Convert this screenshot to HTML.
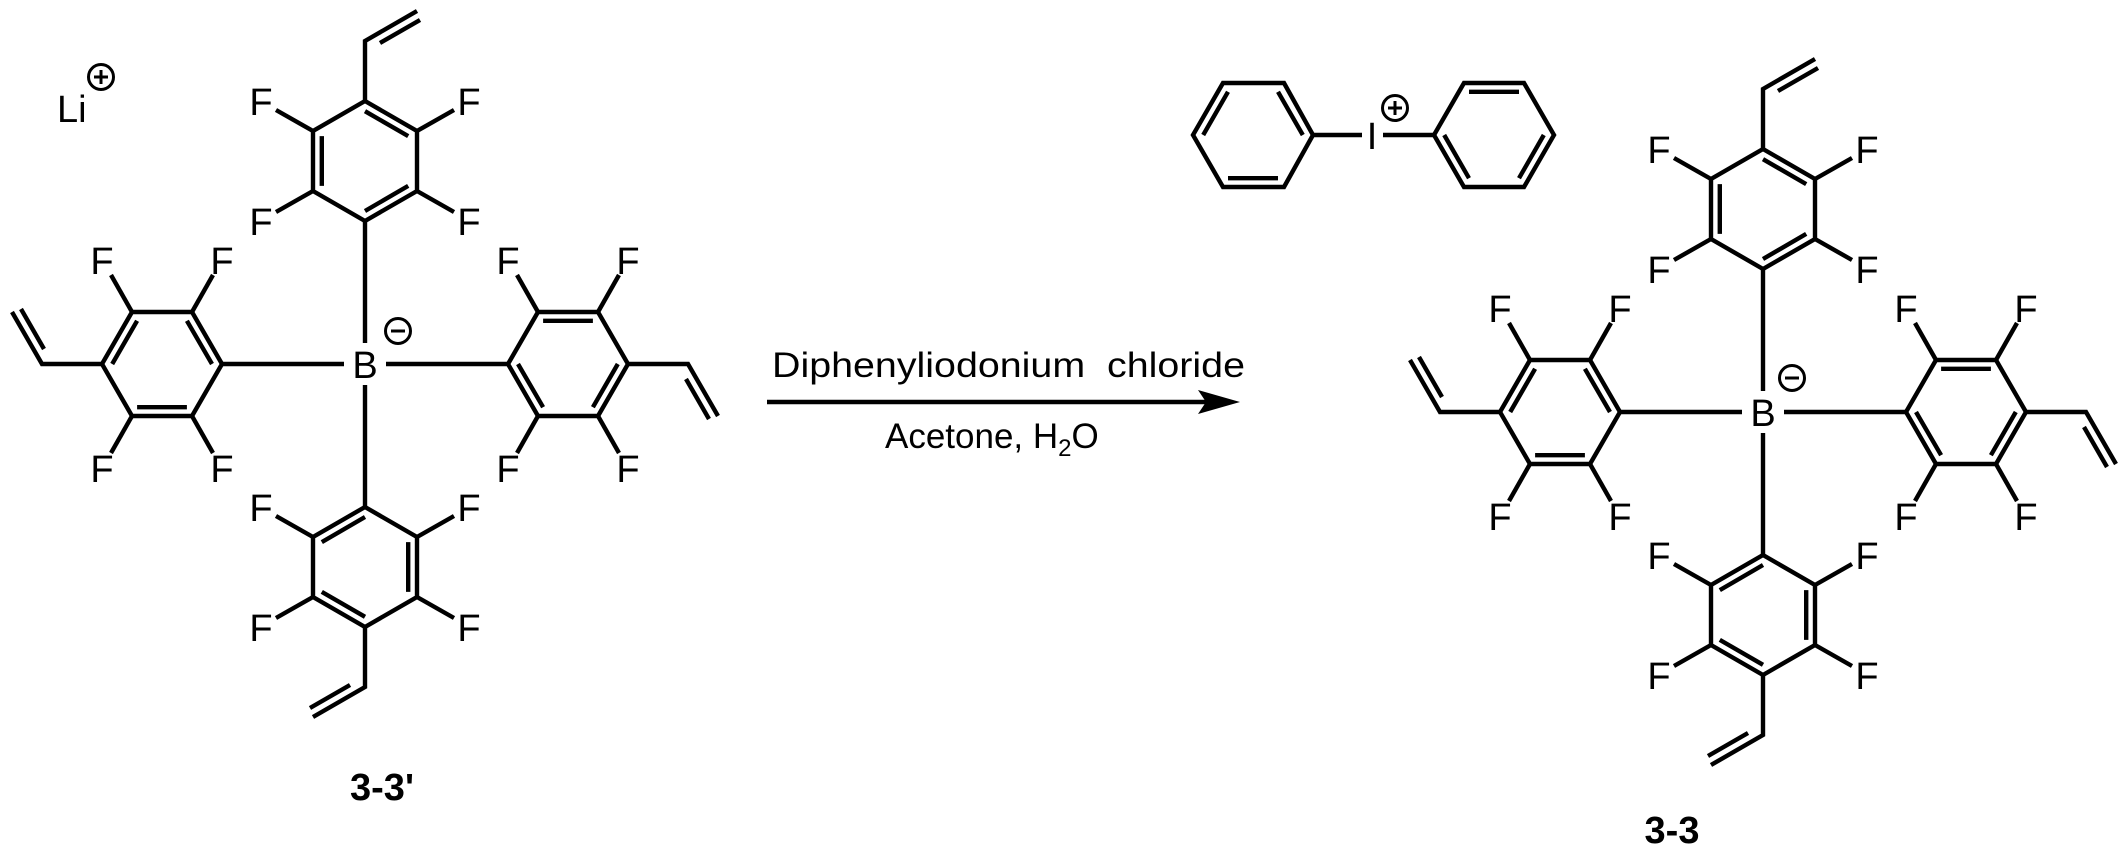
<!DOCTYPE html>
<html><head><meta charset="utf-8"><style>
html,body{margin:0;padding:0;background:#fff;}
svg{display:block;}
text{font-family:"Liberation Sans",sans-serif;fill:#000;}
.l{font-size:38px;text-anchor:middle;}
</style></head><body>
<svg width="2126" height="863" viewBox="0 0 2126 863" xmlns="http://www.w3.org/2000/svg">
<defs>
<g id="arm" fill="none" stroke="#000" stroke-width="4.4" stroke-linejoin="miter">
  <line x1="0" y1="-21" x2="0" y2="-143"/>
  <polygon points="0,-143 52,-173 52,-233 0,-263 -52,-233 -52,-173"/>
  <line x1="0" y1="-153" x2="43.2" y2="-178.1"/>
  <line x1="-43.2" y1="-178.1" x2="-43.2" y2="-227.9"/>
  <line x1="0" y1="-252.8" x2="43.2" y2="-227.9"/>
  <line x1="52" y1="-173" x2="89" y2="-152"/>
  <line x1="52" y1="-233" x2="89" y2="-254"/>
  <line x1="-52" y1="-233" x2="-89" y2="-254"/>
  <line x1="-52" y1="-173" x2="-89" y2="-152"/>
  <polyline points="0,-263 0,-323 52,-353"/>
  <line x1="15" y1="-321" x2="55" y2="-344"/>
</g>
<g id="minus" fill="none" stroke="#000" stroke-width="3">
  <circle cx="0" cy="0" r="12.5"/><line x1="-7" y1="0" x2="7" y2="0"/>
</g>
<g id="plus" fill="none" stroke="#000" stroke-width="3">
  <circle cx="0" cy="0" r="12.5"/><line x1="-7" y1="0" x2="7" y2="0"/><line x1="0" y1="-7" x2="0" y2="7"/>
</g>
</defs>

<!-- Left molecule -->
<g transform="translate(365,364)">
  <use href="#arm"/>
  <use href="#arm" transform="rotate(90)"/>
  <use href="#arm" transform="rotate(180)"/>
  <use href="#arm" transform="rotate(270)"/>
  <use href="#minus" transform="translate(33,-33)"/>
</g>
<text class="l" x="365" y="378">B</text>
<text class="l" x="261" y="235">F</text><text class="l" x="469" y="235">F</text>
<text class="l" x="261" y="115">F</text><text class="l" x="469" y="115">F</text>
<text class="l" x="508" y="274">F</text><text class="l" x="508" y="482">F</text>
<text class="l" x="628" y="274">F</text><text class="l" x="628" y="482">F</text>
<text class="l" x="261" y="521">F</text><text class="l" x="469" y="521">F</text>
<text class="l" x="261" y="641">F</text><text class="l" x="469" y="641">F</text>
<text class="l" x="222" y="274">F</text><text class="l" x="222" y="482">F</text>
<text class="l" x="102" y="274">F</text><text class="l" x="102" y="482">F</text>
<text x="57" y="122" style="font-size:38px">Li</text>
<use href="#plus" transform="translate(101,77)"/>
<text class="l" x="382" y="800" style="font-weight:bold">3-3'</text>

<!-- Arrow -->
<line x1="767" y1="402" x2="1208" y2="402" stroke="#000" stroke-width="4.4"/>
<polygon points="1240,402 1198,390 1206,402 1198,414" fill="#000"/>
<text x="772" y="377" style="font-size:35px;white-space:pre" textLength="473" lengthAdjust="spacingAndGlyphs">Diphenyliodonium  chloride</text>
<text x="885" y="448" style="font-size:35px">Acetone, H<tspan style="font-size:24px" dy="8">2</tspan><tspan dy="-8">O</tspan></text>

<!-- Diphenyliodonium -->
<g fill="none" stroke="#000" stroke-width="4.4">
  <polygon points="1193,135 1223,83 1284,83 1313,135 1284,187 1223,187"/>
  <line x1="1203.2" y1="135" x2="1228" y2="91.8"/>
  <line x1="1278" y1="91.8" x2="1302.8" y2="135"/>
  <line x1="1278" y1="178.2" x2="1228" y2="178.2"/>
  <polygon points="1434,135 1464,83 1524,83 1554,135 1524,187 1464,187"/>
  <line x1="1469" y1="91.8" x2="1519" y2="91.8"/>
  <line x1="1444.2" y1="135" x2="1469" y2="178.2"/>
  <line x1="1543.8" y1="135" x2="1519" y2="178.2"/>
  <line x1="1313" y1="135" x2="1362" y2="135"/>
  <line x1="1383" y1="135" x2="1434" y2="135"/>
</g>
<text class="l" x="1372" y="149">I</text>
<use href="#plus" transform="translate(1395,108)"/>

<!-- Right molecule -->
<g transform="translate(1763,412)">
  <use href="#arm"/>
  <use href="#arm" transform="rotate(90)"/>
  <use href="#arm" transform="rotate(180)"/>
  <use href="#arm" transform="rotate(270)"/>
  <use href="#minus" transform="translate(29,-34)"/>
</g>
<text class="l" x="1763" y="426">B</text>
<text class="l" x="1659" y="283">F</text><text class="l" x="1867" y="283">F</text>
<text class="l" x="1659" y="163">F</text><text class="l" x="1867" y="163">F</text>
<text class="l" x="1906" y="322">F</text><text class="l" x="1906" y="530">F</text>
<text class="l" x="2026" y="322">F</text><text class="l" x="2026" y="530">F</text>
<text class="l" x="1659" y="569">F</text><text class="l" x="1867" y="569">F</text>
<text class="l" x="1659" y="689">F</text><text class="l" x="1867" y="689">F</text>
<text class="l" x="1620" y="322">F</text><text class="l" x="1620" y="530">F</text>
<text class="l" x="1500" y="322">F</text><text class="l" x="1500" y="530">F</text>
<text class="l" x="1672" y="843" style="font-weight:bold">3-3</text>
</svg>
</body></html>
